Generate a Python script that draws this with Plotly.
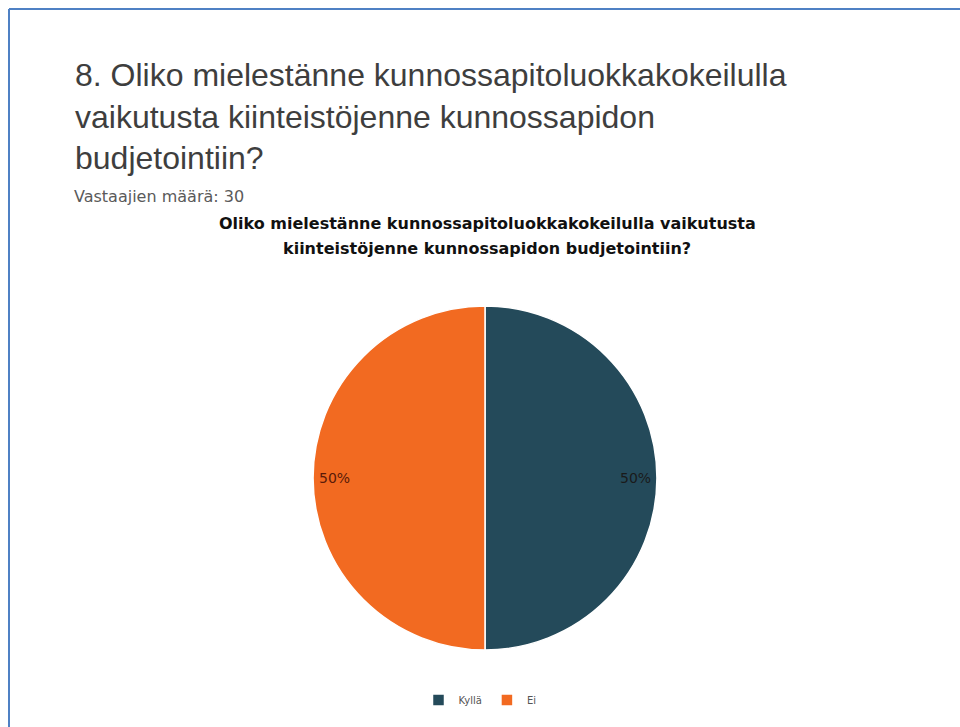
import math
import plotly.graph_objects as go

# Survey answers (share of respondents)
labels = ["Kyllä", "Ei"]
values = [50, 50]
colors = ["#244a5a", "#f26a21"]
label_colors = ["#1a1a1a", "#5a1a08"]

heading = ("8. Oliko mielestänne kunnossapitoluokkakokeilulla<br>"
           "vaikutusta kiinteistöjenne kunnossapidon<br>budjetointiin?")
respondents = "Vastaajien määrä: 30"
chart_title_lines = ["Oliko mielestänne kunnossapitoluokkakokeilulla vaikutusta",
                     "kiinteistöjenne kunnossapidon budjetointiin?"]

W, H = 960, 727
cx, cy, r = 485, 478, 172  # pie centre and radius in pixels

fig = go.Figure(go.Pie(
    labels=labels, values=values, sort=False, direction="clockwise",
    rotation=0, textinfo="none", hoverinfo="label+percent",
    marker=dict(colors=colors, line=dict(color="white", width=1.5)),
    domain=dict(x=[(cx - r) / W, (cx + r) / W], y=[1 - (cy + r) / H, 1 - (cy - r) / H]),
))

# percentage labels placed near the rim at each slice's mid-angle
total = sum(values)
cum = 0
annotations = []
for v, c in zip(values, label_colors):
    mid = (cum + v / 2) / total * 2 * math.pi
    cum += v
    px = cx + 0.875 * r * math.sin(mid)
    py = cy - 0.875 * r * math.cos(mid)
    annotations.append(dict(
        x=px / W, y=1 - py / H, xref="paper", yref="paper",
        text=f"{round(v / total * 100)}%", showarrow=False,
        font=dict(family="DejaVu Sans", size=14, color=c),
        xanchor="center", yanchor="middle"))

annotations += [
    dict(x=73 / W, y=1 - 55 / H, xref="paper", yref="paper", text=heading,
         showarrow=False, xanchor="left", yanchor="top", align="left",
         font=dict(family="Liberation Sans", size=32, color="#3e3e3e")),
    dict(x=72 / W, y=1 - 196 / H, xref="paper", yref="paper", text=respondents,
         showarrow=False, xanchor="left", yanchor="middle", align="left",
         font=dict(family="DejaVu Sans", size=16, color="#5a5a5a")),
]
for i, line in enumerate(chart_title_lines):
    annotations.append(dict(
        x=487 / W, y=1 - (223 + 25 * i) / H, xref="paper", yref="paper",
        text=f"<b>{line}</b>", showarrow=False, xanchor="center", yanchor="middle",
        font=dict(family="DejaVu Sans", size=16, color="#111111")))

fig.update_layout(
    width=W, height=H, margin=dict(l=0, r=0, t=0, b=0),
    paper_bgcolor="white", plot_bgcolor="white",
    showlegend=True,
    legend=dict(orientation="h", x=480 / W, y=1 - 700 / H, xanchor="center",
                yanchor="middle", itemwidth=30, traceorder="normal",
                font=dict(family="DejaVu Sans", size=10, color="#555555")),
    annotations=annotations,
    shapes=[
        dict(type="line", xref="paper", yref="paper", x0=9 / W, x1=1.01,
             y0=1 - 9 / H, y1=1 - 9 / H, line=dict(color="#4f81c4", width=2)),
        dict(type="line", xref="paper", yref="paper", x0=9 / W, x1=9 / W,
             y0=1 - 9 / H, y1=-0.01, line=dict(color="#4f81c4", width=2)),
    ],
)

fig.write_html("out.html")
